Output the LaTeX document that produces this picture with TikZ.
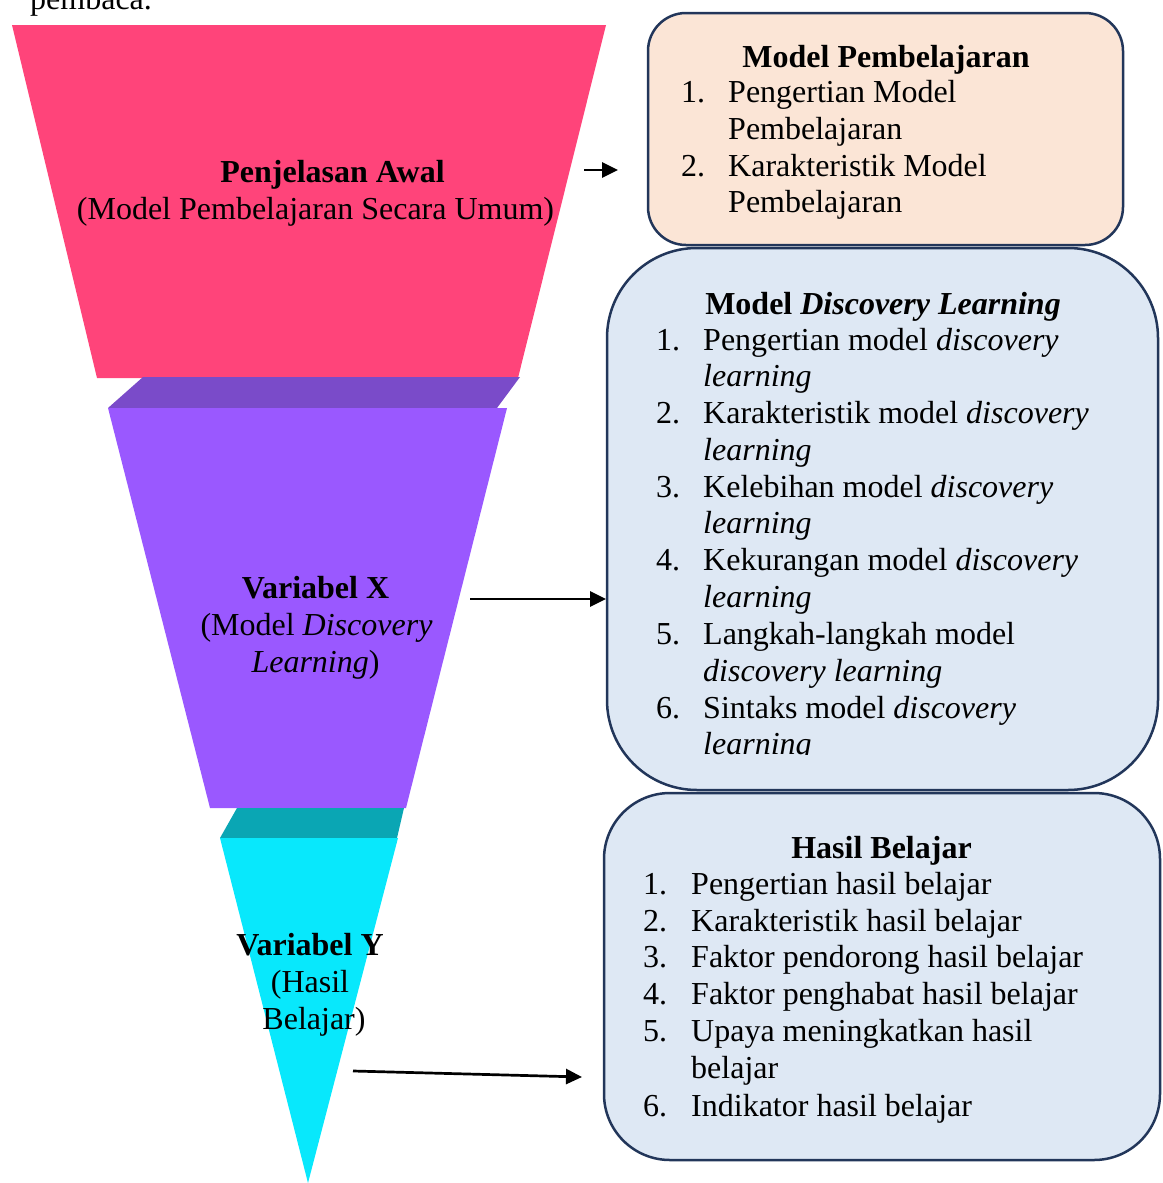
\documentclass[tikz,border=0pt]{standalone}
\usepackage{fontspec}
\setmainfont{Liberation Serif}
\usetikzlibrary{arrows.meta}
\definecolor{pinkc}{HTML}{FF447A}
\definecolor{purpd}{HTML}{7A4BC9}
\definecolor{purpl}{HTML}{9A58FF}
\definecolor{teald}{HTML}{0AA6B4}
\definecolor{cyanl}{HTML}{08E8FC}
\definecolor{peach}{HTML}{FBE5D6}
\definecolor{lblue}{HTML}{DEE8F4}
\definecolor{navy}{HTML}{22365A}
\begin{document}
\begin{tikzpicture}[x=1pt,y=-1pt,
  txt/.style={font=\fontsize{32}{37}\selectfont,inner sep=0pt},
  ttl/.style={txt,font=\fontsize{32}{37}\selectfont\bfseries,anchor=base},
  ctr/.style={txt,anchor=base},
  itm/.style={txt,anchor=base west},
  boxst/.style={draw=navy,line width=2.5pt},
  conn/.style={line width=2.7pt,-{Triangle[length=16pt,width=15pt]}}]
\useasboundingbox (0,0) rectangle (1162,1183);

% page text cut at top
\node[itm] (pemb) at (30,9.5) {pembaca.};

% funnel
\fill[pinkc] (12,25) -- (606,25) -- (518,378) -- (97,378) -- cycle;
\fill[purpd] (143,377) -- (520,377) -- (497,408) -- (108,408) -- cycle;
\fill[purpl] (108,408) -- (507,408) -- (406,808) -- (210,808) -- cycle;
\fill[teald] (237,808) -- (404,808) -- (397,838) -- (220,838) -- cycle;
\fill[cyanl] (220,838) -- (398,838) -- (308,1183) -- cycle;

% funnel texts
\node[ttl] (f1a) at (332.5,182) {Penjelasan Awal};
\node[ctr] (f1b) at (315.5,219) {(Model Pembelajaran Secara Umum)};
\node[ttl] (f2a) at (315.5,598) {Variabel X};
\node[ctr] (f2b) at (316.5,635) {(Model \textit{Discovery}};
\node[ctr] (f2c) at (315.5,672) {\textit{Learning})};
\node[ttl] (f3a) at (310,955) {Variabel Y};
\node[ctr] (f3b) at (310,992) {(Hasil};
\node[ctr] (f3c) at (314,1029) {Belajar)};

% boxes
\draw[boxst,fill=peach,rounded corners=38pt] (648,13) rectangle (1123,245);
\draw[boxst,fill=lblue,rounded corners=90pt] (607,248) rectangle (1158,790);
\draw[boxst,fill=lblue,rounded corners=66pt] (604,793) rectangle (1160,1160);

% box 1 text
\node[ttl] (t1) at (886,67) {Model Pembelajaran};
\node[itm] (n11) at (681,102.5) {1.};
\node[itm] (l11) at (728,102.5) {Pengertian Model};
\node[itm] (l12) at (728,139) {Pembelajaran};
\node[itm] (n12) at (681,176.5) {2.};
\node[itm] (l13) at (728,176.5) {Karakteristik Model};
\node[itm] (l14) at (728,212) {Pembelajaran};

% box 2 text
\begin{scope}
\clip (600,250) rectangle (1160,754);
\node[ttl] (t2) at (883,314) {Model \textit{Discovery Learning}};
\node[itm] (n21) at (656,350) {1.};
\node[itm] (l21) at (703,350) {Pengertian model \textit{discovery}};
\node[itm] (l22) at (703,386.5) {\textit{learning}};
\node[itm] (n22) at (656,423) {2.};
\node[itm] (l23) at (703,423) {Karakteristik model \textit{discovery}};
\node[itm] (l24) at (703,460) {\textit{learning}};
\node[itm] (n23) at (656,497) {3.};
\node[itm] (l25) at (703,497) {Kelebihan model \textit{discovery}};
\node[itm] (l26) at (703,533) {\textit{learning}};
\node[itm] (n24) at (656,570) {4.};
\node[itm] (l27) at (703,570) {Kekurangan model \textit{discovery}};
\node[itm] (l28) at (703,607) {\textit{learning}};
\node[itm] (n25) at (656,644) {5.};
\node[itm] (l29) at (703,644) {Langkah-langkah model};
\node[itm] (l210) at (703,681) {\textit{discovery learning}};
\node[itm] (n26) at (656,718) {6.};
\node[itm] (l211) at (703,718) {Sintaks model \textit{discovery}};
\node[itm] (l212) at (703,754) {\textit{learning}};
\end{scope}

% box 3 text
\node[ttl] (t3) at (881.5,858) {Hasil Belajar};
\node[itm] (n31) at (643,894) {1.};
\node[itm] (l31) at (691,894) {Pengertian hasil belajar};
\node[itm] (n32) at (643,931) {2.};
\node[itm] (l32) at (691,931) {Karakteristik hasil belajar};
\node[itm] (n33) at (643,967) {3.};
\node[itm] (l33) at (691,967) {Faktor pendorong hasil belajar};
\node[itm] (n34) at (643,1004) {4.};
\node[itm] (l34) at (691,1004) {Faktor penghabat hasil belajar};
\node[itm] (n35) at (643,1041) {5.};
\node[itm] (l35) at (691,1041) {Upaya meningkatkan hasil};
\node[itm] (l36) at (691,1078) {belajar};
\node[itm] (n36) at (643,1116) {6.};
\node[itm] (l37) at (691,1116) {Indikator hasil belajar};

% arrows
\coordinate (a1s) at (584,170);
\coordinate (a1e) at (618,170);
\coordinate (a2s) at (470,599);
\coordinate (a2e) at (606,599);
\coordinate (a3s) at (353,1071);
\coordinate (a3e) at (582,1077);
\draw[conn] (a1s) -- (a1e);
\draw[conn] (a2s) -- (a2e);
\draw[conn] (a3s) -- (a3e);
\end{tikzpicture}
\end{document}
